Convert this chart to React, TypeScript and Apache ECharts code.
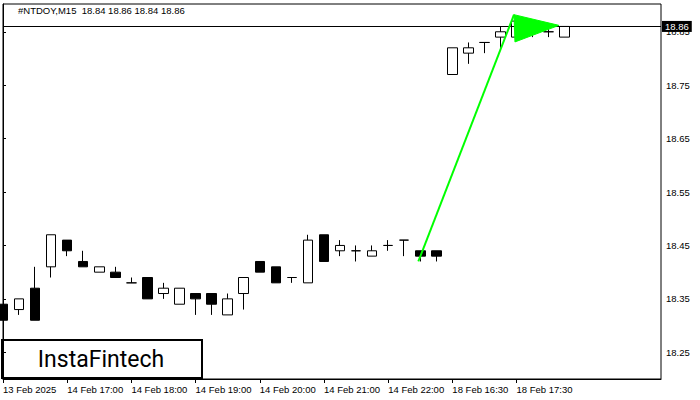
import React, { useEffect, useRef } from "react";
import * as echarts from "echarts";

// OHLC candles (open, high, low, close), 15-minute bars
const opens  = [18.34,18.33,18.37,18.41,18.46,18.42,18.40,18.40,18.38,18.39,18.36,18.34,18.36,18.36,18.32,18.36,18.42,18.41,18.39,18.38,18.47,18.44,18.44,18.43,18.45,18.46,18.44,18.44,18.77,18.81,18.83,18.84,18.84,18.86,18.85,18.84];
const highs  = [18.34,18.35,18.41,18.47,18.46,18.44,18.41,18.41,18.39,18.39,18.38,18.37,18.36,18.36,18.36,18.39,18.42,18.41,18.39,18.47,18.47,18.46,18.45,18.45,18.46,18.46,18.44,18.44,18.82,18.83,18.83,18.86,18.87,18.87,18.86,18.86];
const lows   = [18.31,18.32,18.31,18.39,18.43,18.41,18.40,18.39,18.38,18.35,18.35,18.34,18.32,18.32,18.32,18.33,18.40,18.38,18.38,18.38,18.42,18.43,18.42,18.43,18.44,18.43,18.42,18.42,18.77,18.79,18.81,18.82,18.84,18.84,18.84,18.84];
const closes = [18.31,18.35,18.31,18.47,18.44,18.41,18.41,18.39,18.38,18.35,18.37,18.37,18.35,18.34,18.35,18.39,18.40,18.38,18.39,18.46,18.42,18.45,18.44,18.44,18.45,18.46,18.43,18.43,18.82,18.82,18.83,18.85,18.87,18.86,18.85,18.86];

const totalSlots = 42; // 36 bars + empty space on the right
const xTickIndex = [0, 4, 8, 12, 16, 20, 24, 28, 32];
const xTickLabels = ["13 Feb 2025", "14 Feb 17:00", "14 Feb 18:00", "14 Feb 19:00", "14 Feb 20:00", "14 Feb 21:00", "14 Feb 22:00", "18 Feb 16:30", "18 Feb 17:30"];
const yTickValues = [18.25, 18.35, 18.45, 18.55, 18.65, 18.75, 18.85];
const lastPrice = 18.86;
const titleText = "#NTDOY,M15  18.84 18.86 18.84 18.86";

// Pattern overlay (bar index, price)
const lineX = [25.88, 31.84];
const lineY = [18.42, 18.882];
const flagX = [31.84, 34.64, 31.9];
const flagY = [18.882, 18.862, 18.831];

const FONT = "Liberation Sans";

export default function App() {
  const ref = useRef<HTMLDivElement>(null);
  useEffect(() => {
    if (!ref.current) return;
    const chart = echarts.init(ref.current, undefined, { renderer: "svg" });
    const categories = Array.from({ length: totalSlots }, (_, i) => String(i));
    const candleData = opens.map((o, i) => [o, closes[i], lows[i], highs[i]]);
    const labelMap: Record<number, string> = {};
    xTickIndex.forEach((idx, k) => (labelMap[idx] = xTickLabels[k]));

    chart.setOption({
      animation: false,
      backgroundColor: "#fff",
      grid: {
        left: 3,
        right: 39,
        top: 4,
        bottom: 21,
        show: true,
        borderColor: "#000",
        borderWidth: 1,
        backgroundColor: "transparent",
      },
      xAxis: [
        {
          type: "category",
          data: categories,
          boundaryGap: false,
          axisLine: { show: true, lineStyle: { color: "#000", width: 1 } },
          axisTick: {
            show: true,
            length: 4,
            lineStyle: { color: "#000" },
            interval: (idx: number) => labelMap[idx] !== undefined,
          },
          axisLabel: {
            show: true,
            interval: (idx: number) => labelMap[idx] !== undefined,
            formatter: (_v: string, idx: number) => labelMap[idx] ?? "",
            align: "left",
            margin: 5,
            color: "#000",
            fontFamily: FONT,
            fontSize: 9.5,
          },
          splitLine: { show: false },
        },
        {
          type: "value",
          min: 0,
          max: totalSlots - 1,
          show: false,
        },
      ],
      yAxis: {
        type: "value",
        position: "right",
        min: 18.2,
        max: 18.902,
        scale: true,
        axisLine: { show: true, lineStyle: { color: "#000", width: 1 } },
        axisTick: {
          show: true,
          length: 3,
          lineStyle: { color: "#000" },
          customValues: yTickValues,
        },
        axisLabel: {
          show: true,
          customValues: yTickValues,
          formatter: (v: number) => v.toFixed(2),
          margin: 5,
          color: "#000",
          fontFamily: FONT,
          fontSize: 9.5,
        },
        splitLine: { show: false },
      },
      series: [
        {
          type: "candlestick",
          data: candleData,
          barWidth: 10,
          clip: true,
          itemStyle: {
            color: "#fff",
            color0: "#000",
            borderColor: "#000",
            borderColor0: "#000",
            borderWidth: 1,
          },
          markLine: {
            silent: true,
            symbol: ["none", "none"],
            lineStyle: { color: "#000", width: 1, type: "solid" },
            label: {
              show: true,
              position: "end",
              distance: 1,
              formatter: lastPrice.toFixed(2),
              backgroundColor: "#000",
              color: "#fff",
              padding: [1, 3, 0, 3],
              fontFamily: FONT,
              fontSize: 9.5,
            },
            data: [{ yAxis: lastPrice }],
          },
        },
        {
          type: "line",
          xAxisIndex: 1,
          data: lineX.map((x, i) => [x, lineY[i]]),
          symbol: "none",
          lineStyle: { color: "#00ff00", width: 2 },
          z: 5,
        },
        {
          type: "custom",
          xAxisIndex: 1,
          data: [0],
          z: 5,
          renderItem: (_params: any, api: any) => {
            const pts = flagX.map((x, i) => api.coord([x, flagY[i]]));
            return {
              type: "polygon",
              shape: { points: pts },
              style: { fill: "#00ff00", stroke: "#00ff00", lineWidth: 1 },
            };
          },
        },
      ],
      graphic: [
        {
          type: "text",
          left: 18,
          top: 5,
          style: { text: titleText, fill: "#000", font: `9.5px '${FONT}'` },
          z: 10,
        },
        {
          type: "group",
          z: 10,
          children: [
            {
              type: "rect",
              shape: { x: 2, y: 340, width: 200, height: 38 },
              style: { fill: "#fff", stroke: "#000", lineWidth: 2 },
            },
            {
              type: "text",
              x: 101,
              y: 359,
              style: {
                text: "InstaFintech",
                fill: "#000",
                font: "400 23px 'Roboto'",
                textAlign: "center",
                textVerticalAlign: "middle",
              },
            },
          ],
        },
      ],
    });
    return () => chart.dispose();
  }, []);

  return <div ref={ref} style={{ width: 700, height: 400, position: "absolute", left: 0, top: 0 }} />;
}
